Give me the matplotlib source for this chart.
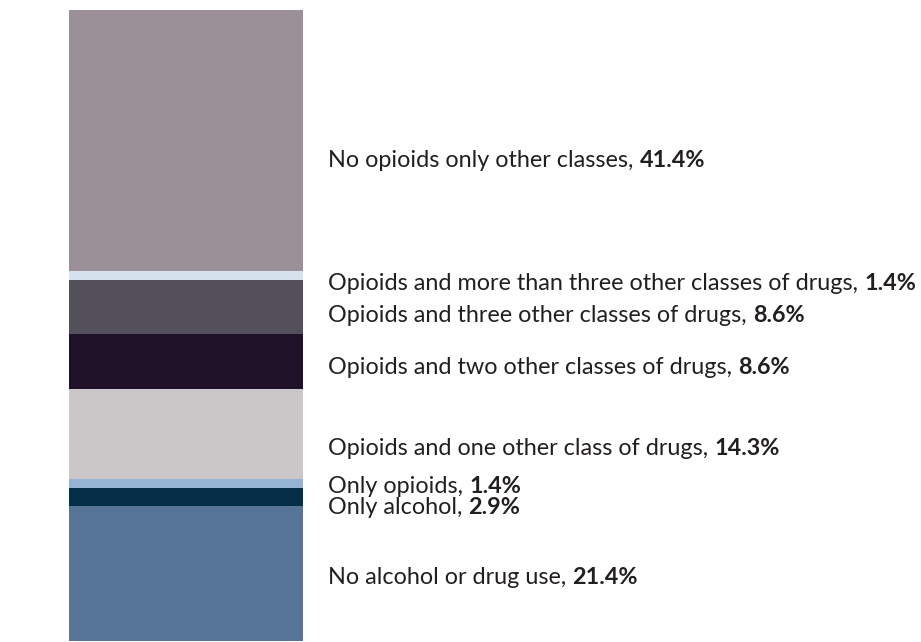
import matplotlib.pyplot as plt

# drug use categories, bottom to top of the stacked bar
categories = [
    "No alcohol or drug use",
    "Only alcohol",
    "Only opioids",
    "Opioids and one other class of drugs",
    "Opioids and two other classes of drugs",
    "Opioids and three other classes of drugs",
    "Opioids and more than three other classes of drugs",
    "No opioids only other classes",
]
shares = [21.4, 2.9, 1.4, 14.3, 8.6, 8.6, 1.4, 41.4]
colors = ["#567495", "#032e45", "#95b3d3", "#cbc7c8",
          "#1f1127", "#53505b", "#d5e1ec", "#9b9097"]

# where each label sits on the percent axis (nudged so they don't collide)
label_y = [10.1, 21.2, 24.5, 30.5, 43.4, 51.6, 56.7, 76.2]

plt.rcParams['font.family'] = ['Lato', 'DejaVu Sans']
txt_color = "#231f20"
fsize = 16.8

fig = plt.figure(figsize=(9.21, 6.42), dpi=100)
ax = fig.add_axes([69/921, 1/642, 234/921, 631/642])

bottom = 0
for s, c in zip(shares, colors):
    ax.bar(0, s, width=1, bottom=bottom, color=c, linewidth=0)
    bottom += s

ax.set_xlim(-0.5, 0.5)
ax.set_ylim(0, 100)
ax.axis('off')

tr = ax.get_yaxis_transform()
for cat, s, y in zip(categories, shares, label_y):
    t = ax.text(1.107, y, cat + ", ", transform=tr, ha='left', va='center',
                fontsize=fsize, color=txt_color, clip_on=False)
    ax.annotate(f"{s:.1f}%", xy=(1, 0), xycoords=t, ha='left', va='bottom',
                fontsize=fsize, fontweight='bold', color=txt_color,
                annotation_clip=False)

fig.savefig("out.png", dpi=100)
